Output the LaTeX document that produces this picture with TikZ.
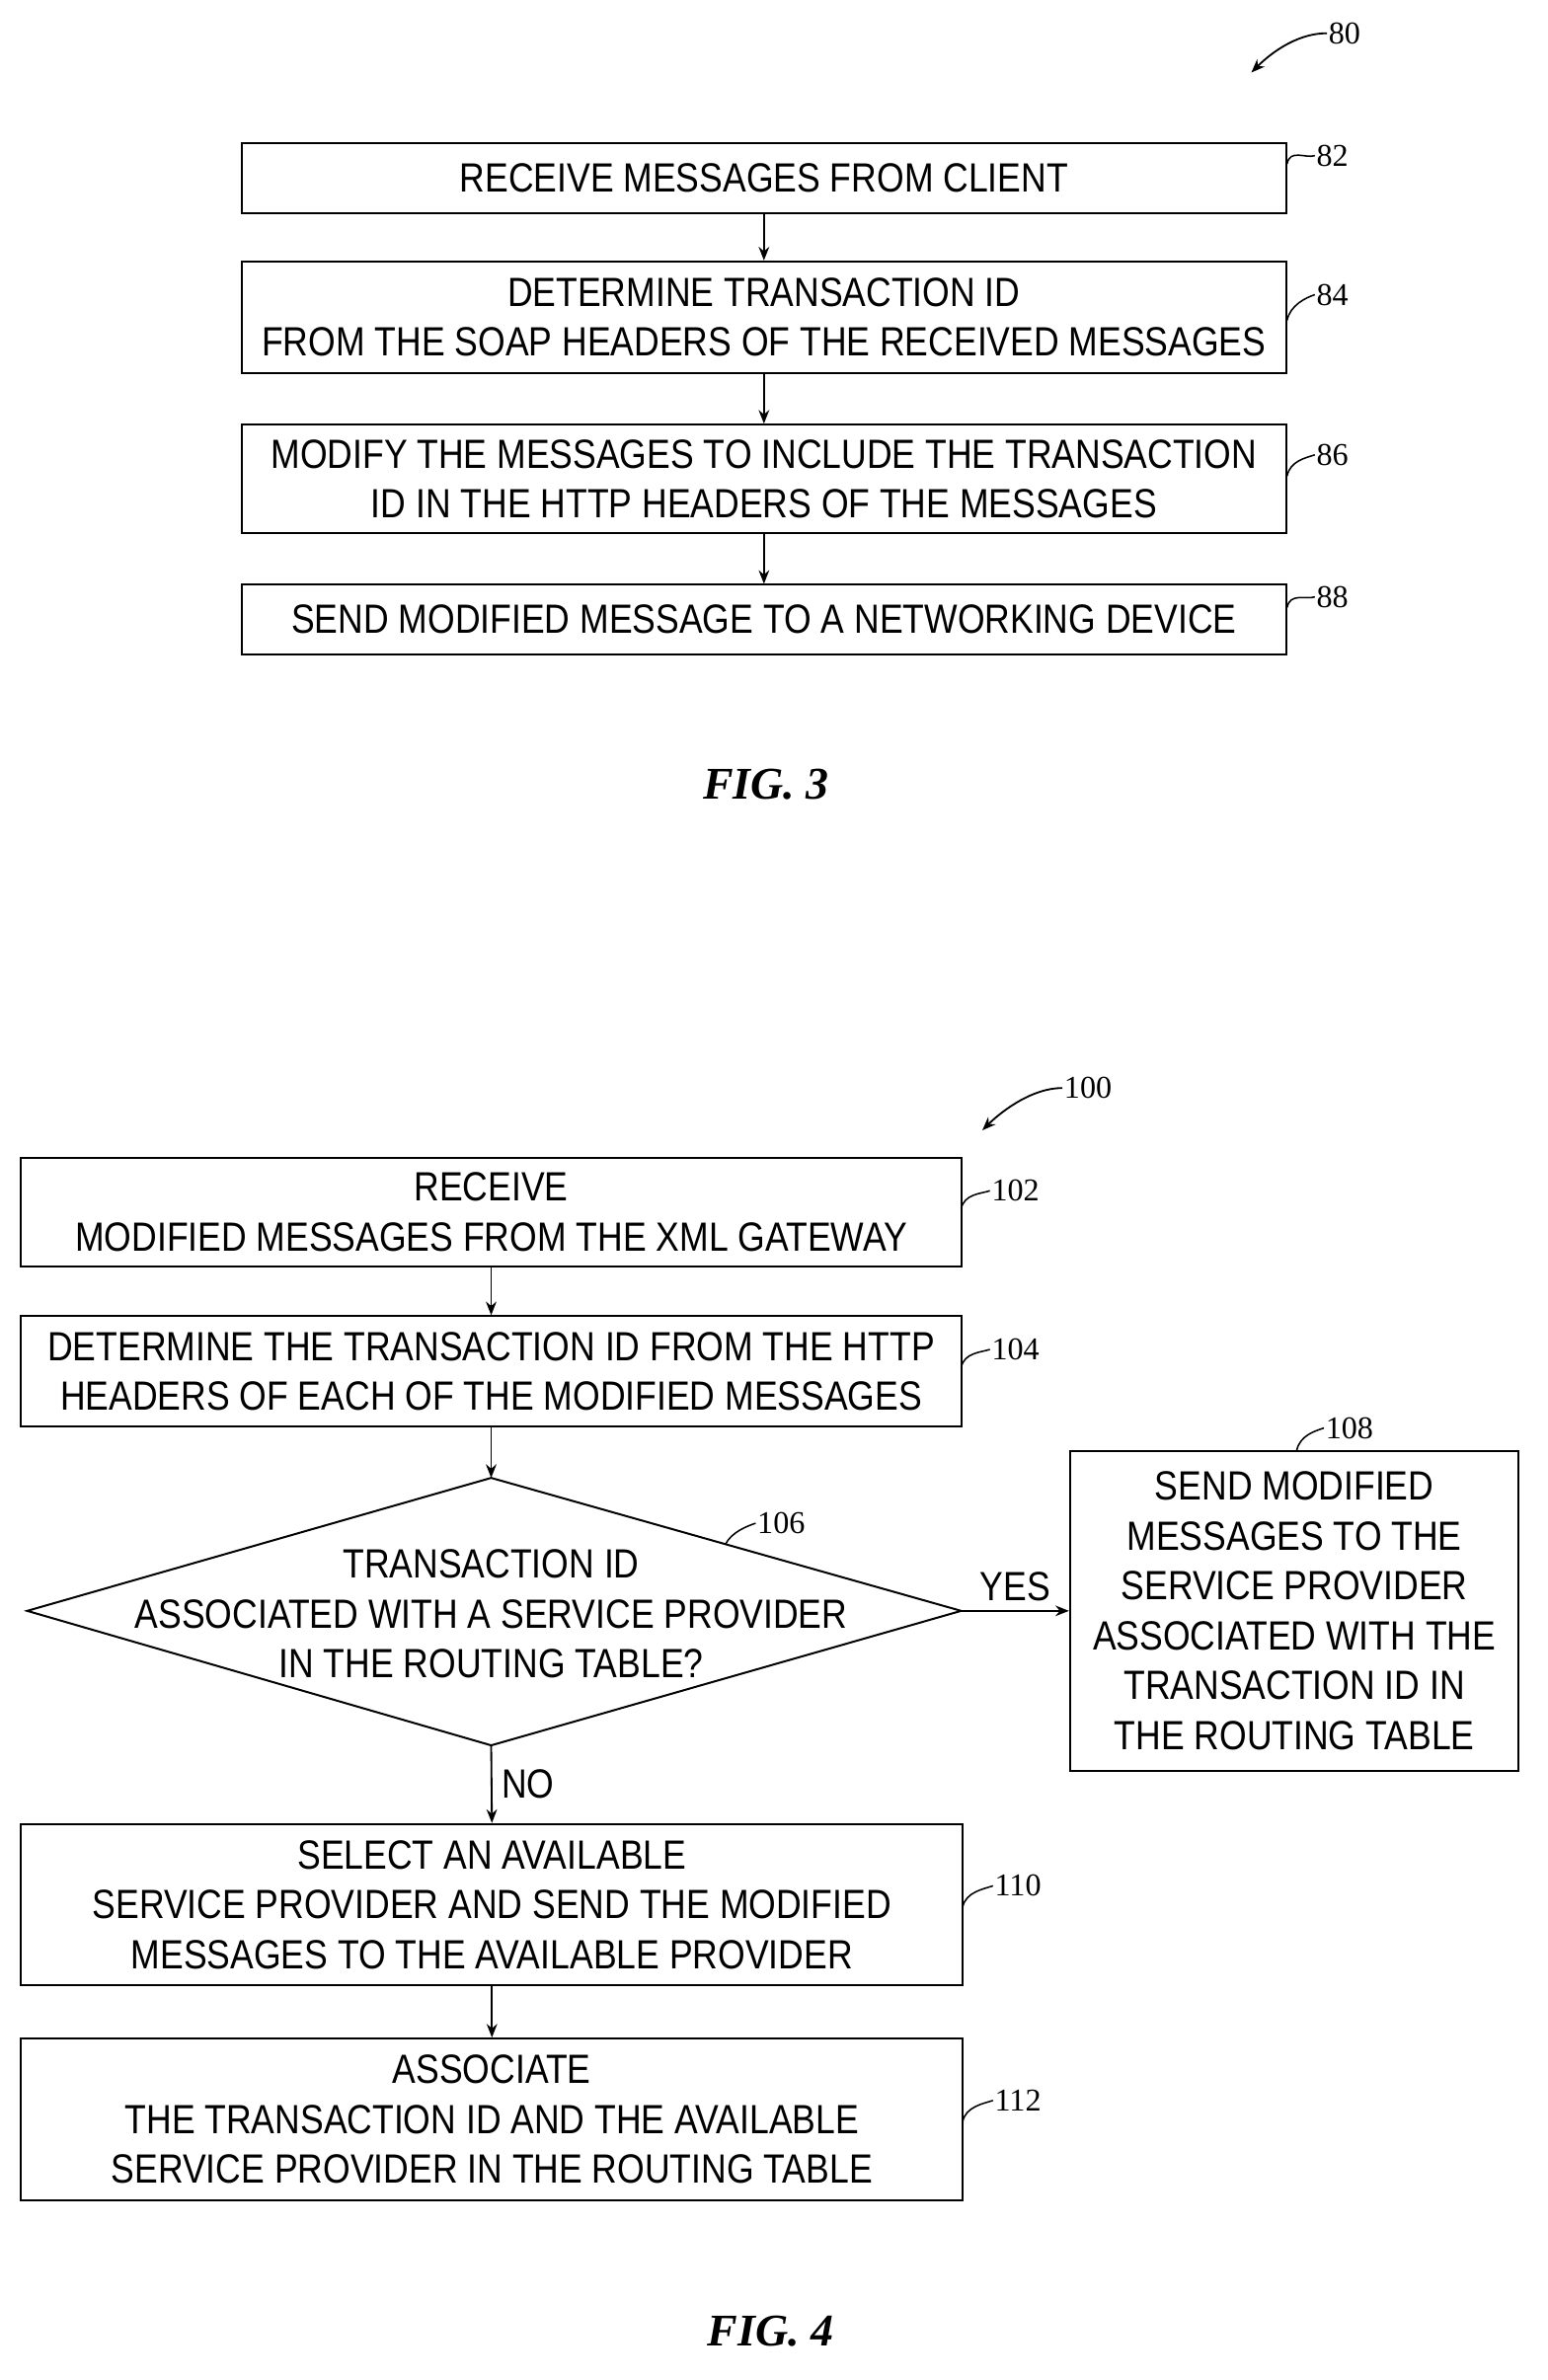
\documentclass[tikz,border=0pt]{standalone}
\usepackage{fontspec}
\setmainfont{Liberation Serif}
\newfontfamily\boxfont[FakeStretch=0.86]{Liberation Sans}
\usetikzlibrary{arrows.meta}
\begin{document}
\begin{tikzpicture}[x=1pt,y=-1pt,
 box/.style={draw,line width=1.3pt,inner sep=0pt,align=center,font=\boxfont\fontsize{27}{33}\selectfont},
 arr/.style={-{Stealth[length=9pt,width=7pt]},line width=1.2pt},
 lead/.style={line width=1pt},
 num/.style={font=\fontsize{21}{22}\selectfont,anchor=west,inner sep=1pt},
 fig/.style={font=\bfseries\itshape\fontsize{30}{32}\selectfont}]
\useasboundingbox (0,0) rectangle (1024,1575);
% FIG 3
\node[box,minimum width=691pt,minimum height=46pt] (b82) at (505.5,118) {RECEIVE MESSAGES FROM CLIENT};
\node[box,minimum width=691pt,minimum height=74pt] (b84) at (505.5,210) {DETERMINE TRANSACTION ID\\FROM THE SOAP HEADERS OF THE RECEIVED MESSAGES};
\node[box,minimum width=691pt,minimum height=72pt] (b86) at (505.5,317) {MODIFY THE MESSAGES TO INCLUDE THE TRANSACTION\\ID IN THE HTTP HEADERS OF THE MESSAGES};
\node[box,minimum width=691pt,minimum height=46pt] (b88) at (505.5,410) {SEND MODIFIED MESSAGE TO A NETWORKING DEVICE};
\draw[arr] (b82) -- (b84);
\draw[arr] (b84) -- (b86);
\draw[arr] (b86) -- (b88);
\node[num] (n82) at (870,103) {82};
\node[num] (n84) at (870,195) {84};
\node[num] (n86) at (870,301) {86};
\node[num] (n88) at (870,395) {88};
\draw[lead] (b82.north east)++(0,14) .. controls +(2,-10) and +(-6,2) .. (n82.west);
\draw[lead] (b84.east)++(0,2) .. controls +(2,-10) and +(-6,2) .. (n84.west);
\draw[lead] (b86.east)++(0,-2) .. controls +(2,-10) and +(-6,2) .. (n86.west);
\draw[lead] (b88.east)++(0,-8) .. controls +(2,-10) and +(-6,2) .. (n88.west);
\node[num] (n80) at (878,22) {80};
\coordinate (a80) at (828,48);
\draw[arr] (n80.west) .. controls +(-22,0) and +(10,-10) .. (a80);
\node[fig] (f3) at (507,519) {FIG. 3};
% FIG 4
\node[box,minimum width=622pt,minimum height=72pt] (b102) at (325,802) {RECEIVE\\MODIFIED MESSAGES FROM THE XML GATEWAY};
\node[box,minimum width=622pt,minimum height=73pt] (b104) at (325,907.5) {DETERMINE THE TRANSACTION ID FROM THE HTTP\\HEADERS OF EACH OF THE MODIFIED MESSAGES};
\coordinate (dt) at (325,978); \coordinate (dr) at (636,1066);
\coordinate (db) at (325,1155); \coordinate (dl) at (18,1066);
\draw[line width=1.3pt] (dt) -- (dr) -- (db) -- (dl) -- cycle;
\node[box,draw=none] (d106) at (325,1068) {TRANSACTION ID\\ASSOCIATED WITH A SERVICE PROVIDER\\IN THE ROUTING TABLE?};
\node[box,minimum width=297pt,minimum height=212pt] (b108) at (856.5,1066) {SEND MODIFIED\\MESSAGES TO THE\\SERVICE PROVIDER\\ASSOCIATED WITH THE\\TRANSACTION ID IN\\THE ROUTING TABLE};
\node[box,minimum width=623pt,minimum height=107pt] (b110) at (325.5,1260.5) {SELECT AN AVAILABLE\\SERVICE PROVIDER AND SEND THE MODIFIED\\MESSAGES TO THE AVAILABLE PROVIDER};
\node[box,minimum width=623pt,minimum height=107pt] (b112) at (325.5,1402.5) {ASSOCIATE\\THE TRANSACTION ID AND THE AVAILABLE\\SERVICE PROVIDER IN THE ROUTING TABLE};
\draw[arr] (b102) -- (b104);
\draw[arr] (b104) -- (dt);
\draw[arr] (dr) -- node[box,draw=none,above=6pt] {YES} (b108.west);
\draw[arr] (db) -- node[box,draw=none,right=6pt] {NO} (b110.north);
\draw[arr] (b110) -- (b112);
\node[num] (n102) at (655,788) {102};
\node[num] (n104) at (655,893) {104};
\node[num] (n106) at (500,1008) {106};
\node[num] (n108) at (876,945) {108};
\node[num] (n110) at (657,1248) {110};
\node[num] (n112) at (657,1390) {112};
\draw[lead] (636,800) .. controls +(2,-10) and +(-6,2) .. (n102.west);
\draw[lead] (636,905) .. controls +(2,-10) and +(-6,2) .. (n104.west);
\draw[lead] (480,1022) .. controls +(4,-8) and +(-6,2) .. (n106.west);
\draw[lead] (858,960) .. controls +(2,-10) and +(-6,2) .. (n108.west);
\draw[lead] (637,1262) .. controls +(2,-10) and +(-6,2) .. (n110.west);
\draw[lead] (637,1404) .. controls +(2,-10) and +(-6,2) .. (n112.west);
\node[num] (n100) at (703,720) {100};
\coordinate (a100) at (650,748);
\draw[arr] (n100.west) .. controls +(-22,0) and +(10,-10) .. (a100);
\node[fig] (f4) at (510,1543) {FIG. 4};
\end{tikzpicture}
\end{document}
